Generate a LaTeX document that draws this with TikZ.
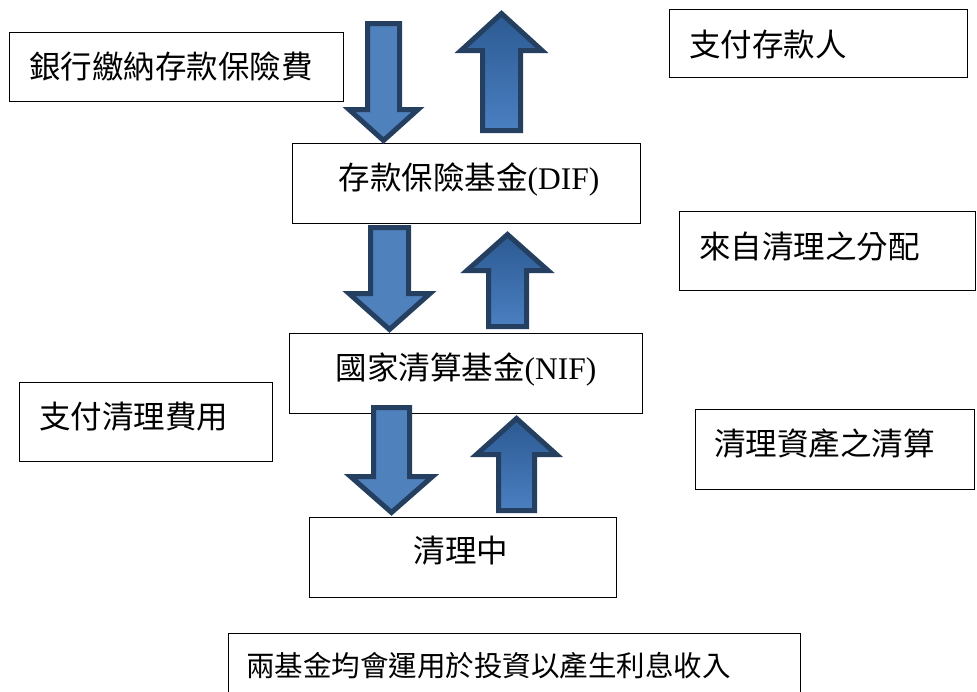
\documentclass[tikz,border=0pt]{standalone}
\usepackage{fontspec}
\setmainfont{Liberation Serif}
\newfontfamily\cjk{Noto Sans CJK TC}
\definecolor{arrowline}{HTML}{243F60}
\definecolor{downfill}{HTML}{4F81BD}
\definecolor{uptop}{HTML}{2C5A92}
\definecolor{upbottom}{HTML}{4A7FC1}
\tikzset{
  box/.style={draw=black, line width=1.2pt, rectangle, inner sep=0pt, anchor=north west},
  lbl/.style={inner sep=0pt, font=\fontsize{31.5}{36}\selectfont},
  smalllbl/.style={inner sep=0pt, font=\fontsize{28.5}{34}\selectfont},
  downblock/.style={draw=arrowline, line width=5pt, fill=downfill, miter limit=10},
  upblock/.style={draw=arrowline, line width=5pt, top color=uptop, bottom color=upbottom, miter limit=10}
}
% cx, shaft half width, head half width, top y, head y, tip y
\newcommand\blockdn[6]{%
  \path[downblock] ({#1-#2},#4) -- ({#1+#2},#4) -- ({#1+#2},#5) -- ({#1+#3},#5) -- (#1,#6) -- ({#1-#3},#5) -- ({#1-#2},#5) -- cycle;}
% cx, shaft half width, head half width, bottom y, head y, tip y
\newcommand\blockup[6]{%
  \path[upblock] ({#1-#2},#4) -- ({#1+#2},#4) -- ({#1+#2},#5) -- ({#1+#3},#5) -- (#1,#6) -- ({#1-#3},#5) -- ({#1-#2},#5) -- cycle;}
\begin{document}
\begin{tikzpicture}[x=1pt, y=-1pt]
\path[use as bounding box] (0,0) rectangle (977,691);
\clip (0,0) rectangle (977,691);
\fill[white] (0,0) rectangle (977,691);

% boxes
\node[box, minimum width=334pt, minimum height=69pt] (pay) at (9,32) {};
\node[box, minimum width=298pt, minimum height=68pt] (depositor) at (669,9) {};
\node[box, minimum width=348pt, minimum height=80pt] (dif) at (292,143) {};
\node[box, minimum width=296pt, minimum height=79pt] (distr) at (679,211) {};
\node[box, minimum width=353pt, minimum height=80pt] (nif) at (289,333) {};
\node[box, minimum width=253pt, minimum height=79pt] (cost) at (19,382) {};
\node[box, minimum width=279pt, minimum height=80pt] (liq) at (695,409) {};
\node[box, minimum width=307pt, minimum height=80pt] (res) at (309,517) {};
\node[box, minimum width=572pt, minimum height=72pt] (invest) at (228,633) {};

% texts
\node[lbl, anchor=base west] (tpay) at (29,78) {\cjk 銀行繳納存款保險費};
\node[lbl, anchor=base west] (tdepositor) at (689,56) {\cjk 支付存款人};
\node[lbl, anchor=base] (tdif) at (469,189) {{\cjk 存款保險基金}(DIF)};
\node[lbl, anchor=base west] (tdistr) at (699,258) {\cjk 來自清理之分配};
\node[lbl, anchor=base] (tnif) at (466,379) {{\cjk 國家清算基金}(NIF)};
\node[lbl, anchor=base west] (tcost) at (39,428) {\cjk 支付清理費用};
\node[lbl, anchor=base west] (tliq) at (714,455) {\cjk 清理資產之清算};
\node[lbl, anchor=base] (tres) at (461,562) {\cjk 清理中};
\node[smalllbl, anchor=base west] (tinvest) at (246,676) {\cjk 兩基金均會運用於投資以產生利息收入};

% block arrows
\blockdn{383.5}{16}{34.5}{23.5}{109.5}{140.5}
\blockup{501.5}{19}{40.5}{130.5}{50.5}{13.5}
\blockdn{389.5}{19}{40.5}{227.5}{293.5}{329.5}
\blockup{507.5}{19}{40.5}{326.5}{270.5}{234.5}
\blockdn{391.5}{18}{41}{407.5}{476.5}{512.5}
\blockup{516.5}{18}{40}{510.5}{454.5}{418.5}
\end{tikzpicture}
\end{document}
